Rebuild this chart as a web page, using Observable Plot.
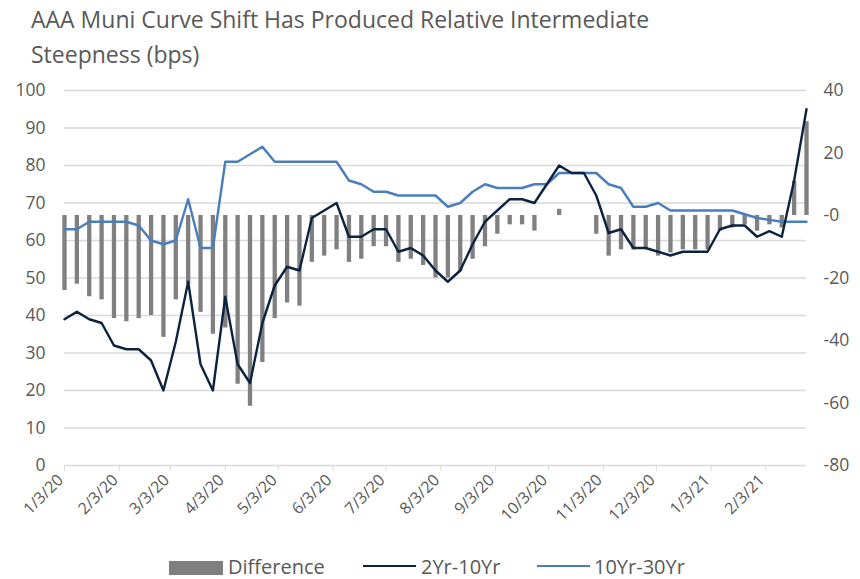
<!DOCTYPE html>
<html>
<head>
<meta charset="utf-8">
<script src="https://cdn.jsdelivr.net/npm/d3@7"></script>
<script src="https://cdn.jsdelivr.net/npm/@observablehq/plot@0.6"></script>
<style>
  html, body { margin: 0; padding: 0; background: #fff; }
  #wrap { position: relative; width: 860px; height: 579px; overflow: hidden; font-family: "Open Sans", sans-serif; color: #595959; }
  #title { position: absolute; left: 31px; top: 2px; font-size: 23px; line-height: 35px; white-space: nowrap; }
  #chart { position: absolute; left: 0; top: 72px; }
  .lg { position: absolute; font-size: 20px; line-height: 20px; top: 557px; white-space: nowrap; }
  .sw { position: absolute; }
</style>
</head>
<body>
<div id="wrap">
  <div id="title">AAA Muni Curve Shift Has Produced Relative Intermediate<br>Steepness (bps)</div>
  <div id="chart"></div>
  <div id="legend"></div>
</div>
<script>
// Weekly observation dates
const dates = [
  "2020-01-03","2020-01-10","2020-01-17","2020-01-24","2020-01-31",
  "2020-02-07","2020-02-14","2020-02-21","2020-02-28",
  "2020-03-06","2020-03-13","2020-03-20","2020-03-27",
  "2020-04-03","2020-04-10","2020-04-17","2020-04-24",
  "2020-05-01","2020-05-08","2020-05-15","2020-05-22","2020-05-29",
  "2020-06-05","2020-06-12","2020-06-19","2020-06-26",
  "2020-07-03","2020-07-10","2020-07-17","2020-07-24","2020-07-31",
  "2020-08-07","2020-08-14","2020-08-21","2020-08-28",
  "2020-09-04","2020-09-11","2020-09-18","2020-09-25",
  "2020-10-02","2020-10-09","2020-10-16","2020-10-23","2020-10-30",
  "2020-11-06","2020-11-13","2020-11-20","2020-11-27",
  "2020-12-04","2020-12-11","2020-12-18","2020-12-25",
  "2021-01-01","2021-01-08","2021-01-15","2021-01-22","2021-01-29",
  "2021-02-05","2021-02-12","2021-02-19","2021-02-26"
];
// 2Yr-10Yr (left axis, bps)
const s2s10 = [
  39,41,39,38,32, 31,31,28,20, 33,49,27,20, 45,27,22,38,
  48,53,52,66,68, 70,61,61,63, 63,57,58,56,52, 49,52,59,65,
  68,71,71,70, 75,80,78,78,72, 62,63,58,58, 57,56,57,57,
  57,63,64,64,61, 62.5,61,76,95
];
// 10Yr-30Yr (left axis, bps)
const s10s30 = [
  63,63,65,65,65, 65,64,60,59, 60,71,58,58, 81,81,83,85,
  81,81,81,81,81, 81,76,75,73, 73,72,72,72,72, 69,70,73,75,
  74,74,74,75, 75,78,78,78,78, 75,74,69,69, 70,68,68,68,
  68,68,68,67,66, 65.5,65,65,65
];
// Difference (right axis, bps)
const difference = [
  -24,-22,-26,-27,-33, -34,-33,-32,-39, -27,-22,-31,-38, -36,-54,-61,-47,
  -33,-28,-29,-15,-13, -11,-15,-14,-10, -10,-15,-14,-16,-20, -20,-18,-14,-10,
  -6,-3,-3,-5, 0,2,0,0,-6, -13,-11,-11,-11, -13,-12,-11,-11,
  -11,-5,-4,-3,-5, -3,-4,11,30
];
const leftTicks = [0,10,20,30,40,50,60,70,80,90,100];
const rightTicks = [-80,-60,-40,-20,0,20,40];
const xTickLabels = ["1/3/20","2/3/20","3/3/20","4/3/20","5/3/20","6/3/20","7/3/20","8/3/20","9/3/20","10/3/20","11/3/20","12/3/20","1/3/21","2/3/21"];
const seriesNames = ["Difference","2Yr-10Yr","10Yr-30Yr"];
const colors = {diff: "#808080", a: "#0c2340", b: "#4a7ebb"};

const parseISO = d3.utcParse("%Y-%m-%d");
const parseTick = d3.utcParse("%m/%d/%y");
const data = dates.map((d, i) => ({date: parseISO(d), a: s2s10[i], b: s10s30[i], diff: difference[i]}));
const xTicks = xTickLabels.map((s, i) => ({date: parseTick(s), label: s}));

// right axis [-80, 40] shares the left axis frame [0, 100]
const toLeft = v => (v + 80) / 120 * 100;
const fromLeft = v => Math.round(v * 1.2 - 80);

const chart = Plot.plot({
  width: 860,
  height: 470,
  marginTop: 18,
  marginBottom: 77,
  marginLeft: 64,
  marginRight: 54,
  style: {fontFamily: "Open Sans, sans-serif", fontSize: "17.5px", color: "#595959", background: "transparent"},
  x: {type: "utc", domain: [data[0].date, data[data.length - 1].date], axis: null},
  y: {domain: [0, 100], axis: null},
  marks: [
    Plot.gridY(leftTicks, {stroke: "#d9d9d9", strokeOpacity: 1, strokeWidth: 1.5}),
    Plot.ruleX(data, {x: "date", y1: () => toLeft(0), y2: d => toLeft(d.diff), stroke: colors.diff, strokeWidth: 4.3}),
    Plot.line(data, {x: "date", y: "b", stroke: colors.b, strokeWidth: 2.4}),
    Plot.line(data, {x: "date", y: "a", stroke: colors.a, strokeWidth: 2.4}),
    Plot.axisY(leftTicks, {anchor: "left", tickSize: 0, tickPadding: 19, label: null, fill: "#595959"}),
    Plot.axisY(rightTicks.map(toLeft), {anchor: "right", tickSize: 0, tickPadding: 17, label: null, fill: "#595959", tickFormat: fromLeft}),
    Plot.axisX(xTicks.map(d => d.date), {anchor: "bottom", tickSize: 6, label: null, stroke: "#d9d9d9", tickFormat: () => ""}),
    Plot.text(xTicks, {x: "date", text: "label", frameAnchor: "bottom", rotate: -45, textAnchor: "end", lineAnchor: "middle", dx: -4, dy: 12, fontSize: 16, fill: "#595959"})
  ]
});
document.getElementById("chart").appendChild(chart);

// Legend
const legend = document.getElementById("legend");
const items = [
  {name: seriesNames[0], kind: "rect", color: colors.diff, sx: 169, tx: 228},
  {name: seriesNames[1], kind: "line", color: colors.a, sx: 363, tx: 421},
  {name: seriesNames[2], kind: "line", color: colors.b, sx: 537, tx: 594}
];
for (const it of items) {
  const sw = document.createElement("div");
  sw.className = "sw";
  if (it.kind === "rect") {
    Object.assign(sw.style, {left: it.sx + "px", top: "561px", width: "54px", height: "14px", background: it.color});
  } else {
    Object.assign(sw.style, {left: it.sx + "px", top: "565px", width: "53px", height: "2.4px", background: it.color});
  }
  legend.appendChild(sw);
  const t = document.createElement("div");
  t.className = "lg";
  t.style.left = it.tx + "px";
  t.textContent = it.name;
  legend.appendChild(t);
}
</script>
</body>
</html>
